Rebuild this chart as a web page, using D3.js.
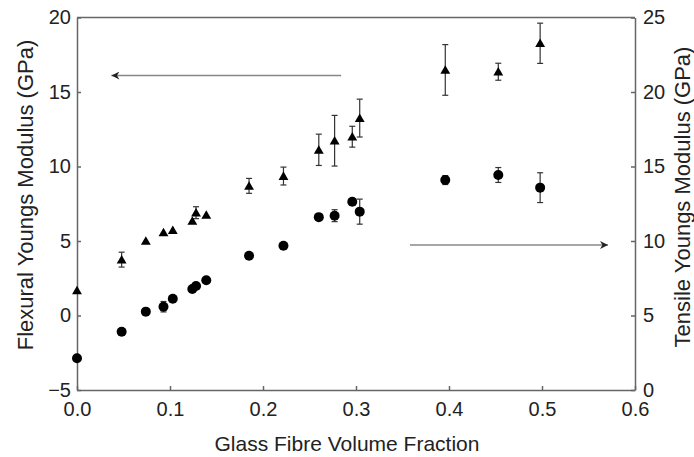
<!DOCTYPE html>
<html>
<head>
<meta charset="utf-8">
<script src="https://cdn.jsdelivr.net/npm/d3@7"></script>
<style>
  body { margin: 0; background: #fff; }
  text { font-family: "Liberation Sans", Arial, sans-serif; fill: #222; }
  .axis path, .axis line { stroke: #666; stroke-width: 1.5; }
  .axis text { font-size: 20px; fill: #222; }
</style>
</head>
<body>
<svg id="chart"></svg>
<script>

// glass fibre volume fraction, shared by both series
const fraction = [0, 0.048, 0.074, 0.093, 0.103, 0.124, 0.128, 0.139, 0.185, 0.222, 0.260, 0.277, 0.296, 0.304, 0.396, 0.453, 0.498];

// flexural modulus (left axis, triangles) and its error
const flexural = [1.68, 3.75, 5.0, 5.57, 5.72, 6.35, 6.9, 6.75, 8.7, 9.36, 11.12, 11.73, 12.0, 13.25, 16.48, 16.36, 18.27];
const flexuralErr = [0, 0.5, 0, 0, 0, 0, 0.4, 0, 0.5, 0.6, 1.05, 1.7, 0.7, 1.27, 1.7, 0.57, 1.35];

// tensile modulus (right axis, circles) and its error
const tensile = [2.13, 3.91, 5.26, 5.59, 6.12, 6.78, 6.98, 7.36, 9.01, 9.68, 11.6, 11.7, 12.64, 11.97, 14.09, 14.43, 13.58];
const tensileErr = [0, 0, 0, 0.35, 0, 0, 0, 0, 0, 0, 0, 0.4, 0, 0.84, 0.3, 0.5, 1.0];

const xTicks = [0, 0.1, 0.2, 0.3, 0.4, 0.5, 0.6];
const flexTicks = [-5, 0, 5, 10, 15, 20];
const tensTicks = [0, 5, 10, 15, 20, 25];

// arrows telling which axis each series belongs to: [x0, x1, value]
const flexArrow = [0.284, 0.037, 16.1];
const tensArrow = [0.358, 0.571, 9.73];

const margin = {top: 17.5, right: 59, bottom: 67, left: 77},
	width = 694 - margin.left - margin.right,
	height = 457 - margin.top - margin.bottom;

const xScale = d3.scaleLinear().domain([0, 0.6]).range([0, width]),
	yFlex = d3.scaleLinear().domain([-5, 20]).range([height, 0]),
	yTens = d3.scaleLinear().domain([0, 25]).range([height, 0]);

const svg = d3.select("#chart")
	.attr("width", width + margin.left + margin.right)
	.attr("height", height + margin.top + margin.bottom)
	.append("g")
	.attr("transform", "translate(" + margin.left + "," + margin.top + ")");

// top border
svg.append("line")
	.attr("x1", 0).attr("x2", width)
	.attr("y1", 0).attr("y2", 0)
	.attr("stroke", "#666")
	.attr("stroke-width", 1.5);

svg.append("g")
	.attr("class", "x axis")
	.attr("transform", "translate(0," + height + ")")
	.call(d3.axisBottom(xScale).tickValues(xTicks).tickFormat(d3.format(".1f"))
		.tickSizeInner(-4).tickSizeOuter(0).tickPadding(12));

svg.append("g")
	.attr("class", "y axis")
	.call(d3.axisLeft(yFlex).tickValues(flexTicks)
		.tickSizeInner(-4).tickSizeOuter(0).tickPadding(6));

svg.append("g")
	.attr("class", "y axis")
	.attr("transform", "translate(" + width + ",0)")
	.call(d3.axisRight(yTens).tickValues(tensTicks)
		.tickSizeInner(-4).tickSizeOuter(0).tickPadding(8));

// arrows
svg.append("defs").append("marker")
	.attr("id", "head")
	.attr("viewBox", "0 0 10 10")
	.attr("refX", 10).attr("refY", 5)
	.attr("markerWidth", 10).attr("markerHeight", 8)
	.attr("markerUnits", "userSpaceOnUse")
	.attr("orient", "auto")
	.append("path")
	.attr("d", "M0,0L10,5L0,10L3,5Z")
	.attr("fill", "#222");

svg.append("line")
	.attr("x1", xScale(flexArrow[0])).attr("x2", xScale(flexArrow[1]))
	.attr("y1", yFlex(flexArrow[2])).attr("y2", yFlex(flexArrow[2]))
	.attr("stroke", "#888").attr("stroke-width", 1.5)
	.attr("marker-end", "url(#head)");

svg.append("line")
	.attr("x1", xScale(tensArrow[0])).attr("x2", xScale(tensArrow[1]))
	.attr("y1", yTens(tensArrow[2])).attr("y2", yTens(tensArrow[2]))
	.attr("stroke", "#888").attr("stroke-width", 1.5)
	.attr("marker-end", "url(#head)");

// error bars
function errorBars(vals, errs, yScale) {
	fraction.forEach(function(f, i) {
		if (!errs[i]) return;
		const x = xScale(f),
			y0 = yScale(vals[i] - errs[i]),
			y1 = yScale(vals[i] + errs[i]);
		const g = svg.append("g")
			.attr("stroke", "#333")
			.attr("stroke-width", 1.2);
		g.append("line").attr("x1", x).attr("x2", x).attr("y1", y0).attr("y2", y1);
		g.append("line").attr("x1", x - 3).attr("x2", x + 3).attr("y1", y0).attr("y2", y0);
		g.append("line").attr("x1", x - 3).attr("x2", x + 3).attr("y1", y1).attr("y2", y1);
	});
}
errorBars(flexural, flexuralErr, yFlex);
errorBars(tensile, tensileErr, yTens);

const tri = d3.symbol().type(d3.symbolTriangle).size(42);

svg.selectAll(".tri")
	.data(fraction)
	.enter()
	.append("path")
	.attr("class", "tri")
	.attr("d", tri)
	.attr("transform", (d, i) => "translate(" + xScale(d) + "," + (yFlex(flexural[i]) + 1) + ")")
	.attr("fill", "#000");

svg.selectAll(".dot")
	.data(fraction)
	.enter()
	.append("circle")
	.attr("class", "dot")
	.attr("cx", d => xScale(d))
	.attr("cy", (d, i) => yTens(tensile[i]))
	.attr("r", 5)
	.attr("fill", "#000");

// axis titles
svg.append("text")
	.attr("x", 270)
	.attr("y", 433)
	.attr("text-anchor", "middle")
	.attr("font-size", "21px")
	.text("Glass Fibre Volume Fraction");

svg.append("text")
	.attr("transform", "translate(" + (33 - margin.left) + "," + (195 - margin.top) + ") rotate(-90)")
	.attr("text-anchor", "middle")
	.attr("font-size", "22px")
	.text("Flexural Youngs Modulus (GPa)");

svg.append("text")
	.attr("transform", "translate(" + (690 - margin.left) + "," + (197 - margin.top) + ") rotate(-90)")
	.attr("text-anchor", "middle")
	.attr("font-size", "22px")
	.text("Tensile Youngs Modulus (GPa)");

</script>
</body>
</html>
